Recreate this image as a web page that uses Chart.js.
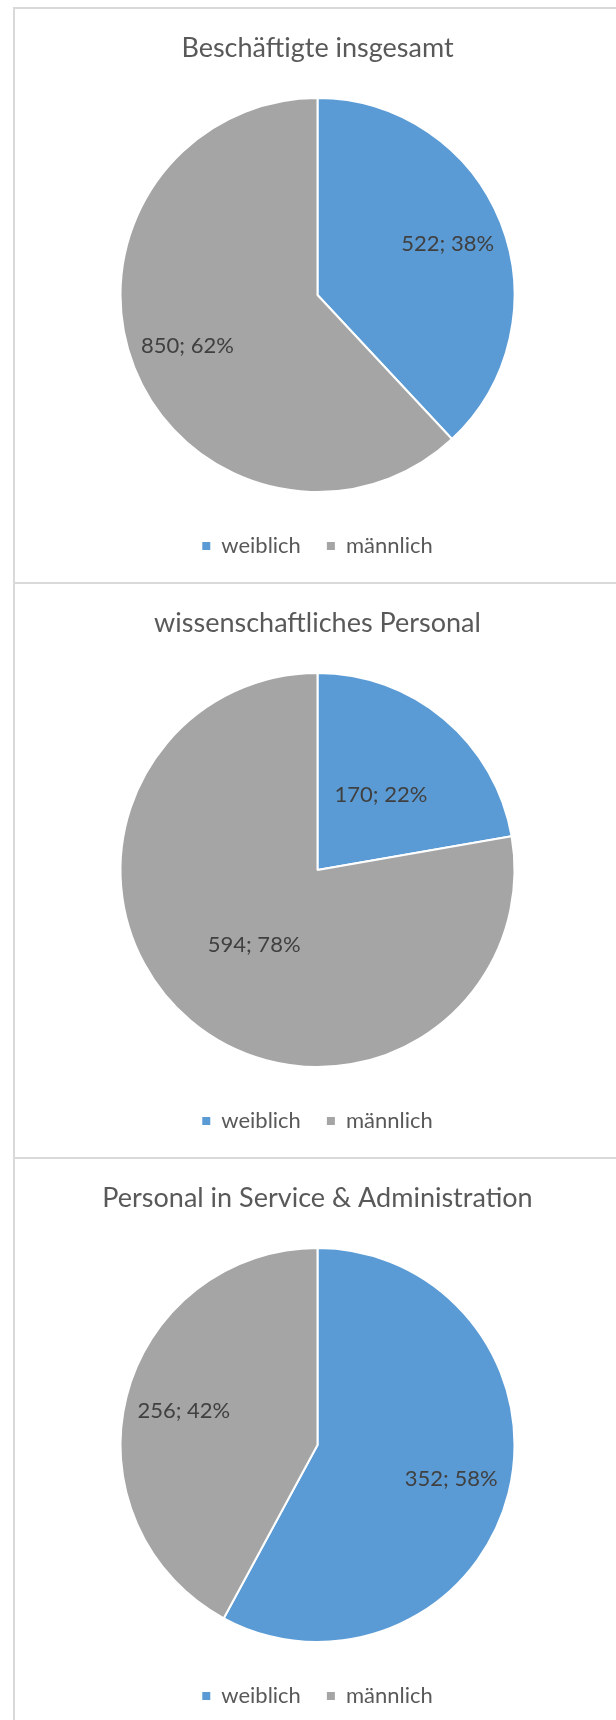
<!DOCTYPE html>
<html>
<head>
<meta charset="utf-8">
<script src="https://cdn.jsdelivr.net/npm/chart.js@4.4.1/dist/chart.umd.min.js"></script>
<style>
  html, body { margin: 0; padding: 0; background: #ffffff; }
  body { width: 616px; height: 1720px; overflow: hidden; position: relative; }
  .panel { position: absolute; left: 13px; width: 603px; height: 575px; box-sizing: border-box;
           border-left: 2px solid #d9d9d9; border-top: 2px solid #d9d9d9; }
  .panel canvas { position: absolute; left: 0; top: 0; }
</style>
</head>
<body>
<div class="panel" style="top:7px"><canvas id="c0" width="601" height="573"></canvas></div>
<div class="panel" style="top:582px"><canvas id="c1" width="601" height="573"></canvas></div>
<div class="panel" style="top:1157px"><canvas id="c2" width="601" height="573"></canvas></div>
<script>
// ---- data ----
const categories = ['weiblich', 'männlich'];
const titles = ['Beschäftigte insgesamt', 'wissenschaftliches Personal', 'Personal in Service & Administration'];
const totalStaff = [522, 850];
const scientificStaff = [170, 594];
const serviceStaff = [352, 256];
const seriesValues = [totalStaff, scientificStaff, serviceStaff];
const sliceColors = ['#5B9BD5', '#A5A5A5'];
const labelRadiusFractions = [0.71, 0.50, 0.70];

const FONT = 'Lato, "Open Sans", sans-serif';

const sliceLabelPlugin = {
  id: 'sliceLabels',
  afterDatasetsDraw(chart, args, opts) {
    const ctx = chart.ctx;
    const meta = chart.getDatasetMeta(0);
    const data = chart.data.datasets[0].data;
    const total = data.reduce((a, b) => a + b, 0);
    ctx.save();
    ctx.font = '22px ' + FONT;
    ctx.fillStyle = '#404040';
    ctx.textAlign = 'center';
    ctx.textBaseline = 'middle';
    meta.data.forEach((arc, i) => {
      const p = arc.getProps(['x', 'y', 'startAngle', 'endAngle', 'outerRadius'], true);
      const mid = (p.startAngle + p.endAngle) / 2;
      const r = p.outerRadius * opts.fraction;
      const pct = Math.round(data[i] / total * 100);
      ctx.fillText(data[i] + '; ' + pct + '%', p.x + Math.cos(mid) * r, p.y + Math.sin(mid) * r);
    });
    ctx.restore();
  }
};

seriesValues.forEach((vals, idx) => {
  new Chart(document.getElementById('c' + idx), {
    type: 'pie',
    data: {
      labels: categories,
      datasets: [{
        data: vals,
        backgroundColor: sliceColors,
        borderColor: '#ffffff',
        borderWidth: 2,
        hoverOffset: 0
      }]
    },
    plugins: [sliceLabelPlugin],
    options: {
      responsive: false,
      animation: false,
      devicePixelRatio: 1,
      layout: { padding: { left: 4, right: 0, top: 0, bottom: 15 } },
      plugins: {
        tooltip: { enabled: false },
        sliceLabels: { fraction: labelRadiusFractions[idx] },
        title: {
          display: true,
          text: titles[idx],
          color: '#595959',
          font: { family: FONT, size: 27, weight: 'normal', lineHeight: 1.2 },
          padding: { top: 22.8, bottom: 32.8 }
        },
        legend: {
          display: true,
          position: 'bottom',
          title: { display: true, text: '', font: { size: 10, lineHeight: 1.2 }, padding: { top: 4, bottom: 0 } },
          labels: {
            color: '#595959',
            font: { family: FONT, size: 22 },
            boxWidth: 8,
            boxHeight: 8,
            padding: 26,
            generateLabels(chart) {
              const items = Chart.controllers.pie.overrides.plugins.legend.labels.generateLabels(chart);
              items.forEach(it => { it.lineWidth = 0; it.strokeStyle = 'rgba(0,0,0,0)'; });
              return items;
            }
          }
        }
      }
    }
  });
});
</script>
</body>
</html>
